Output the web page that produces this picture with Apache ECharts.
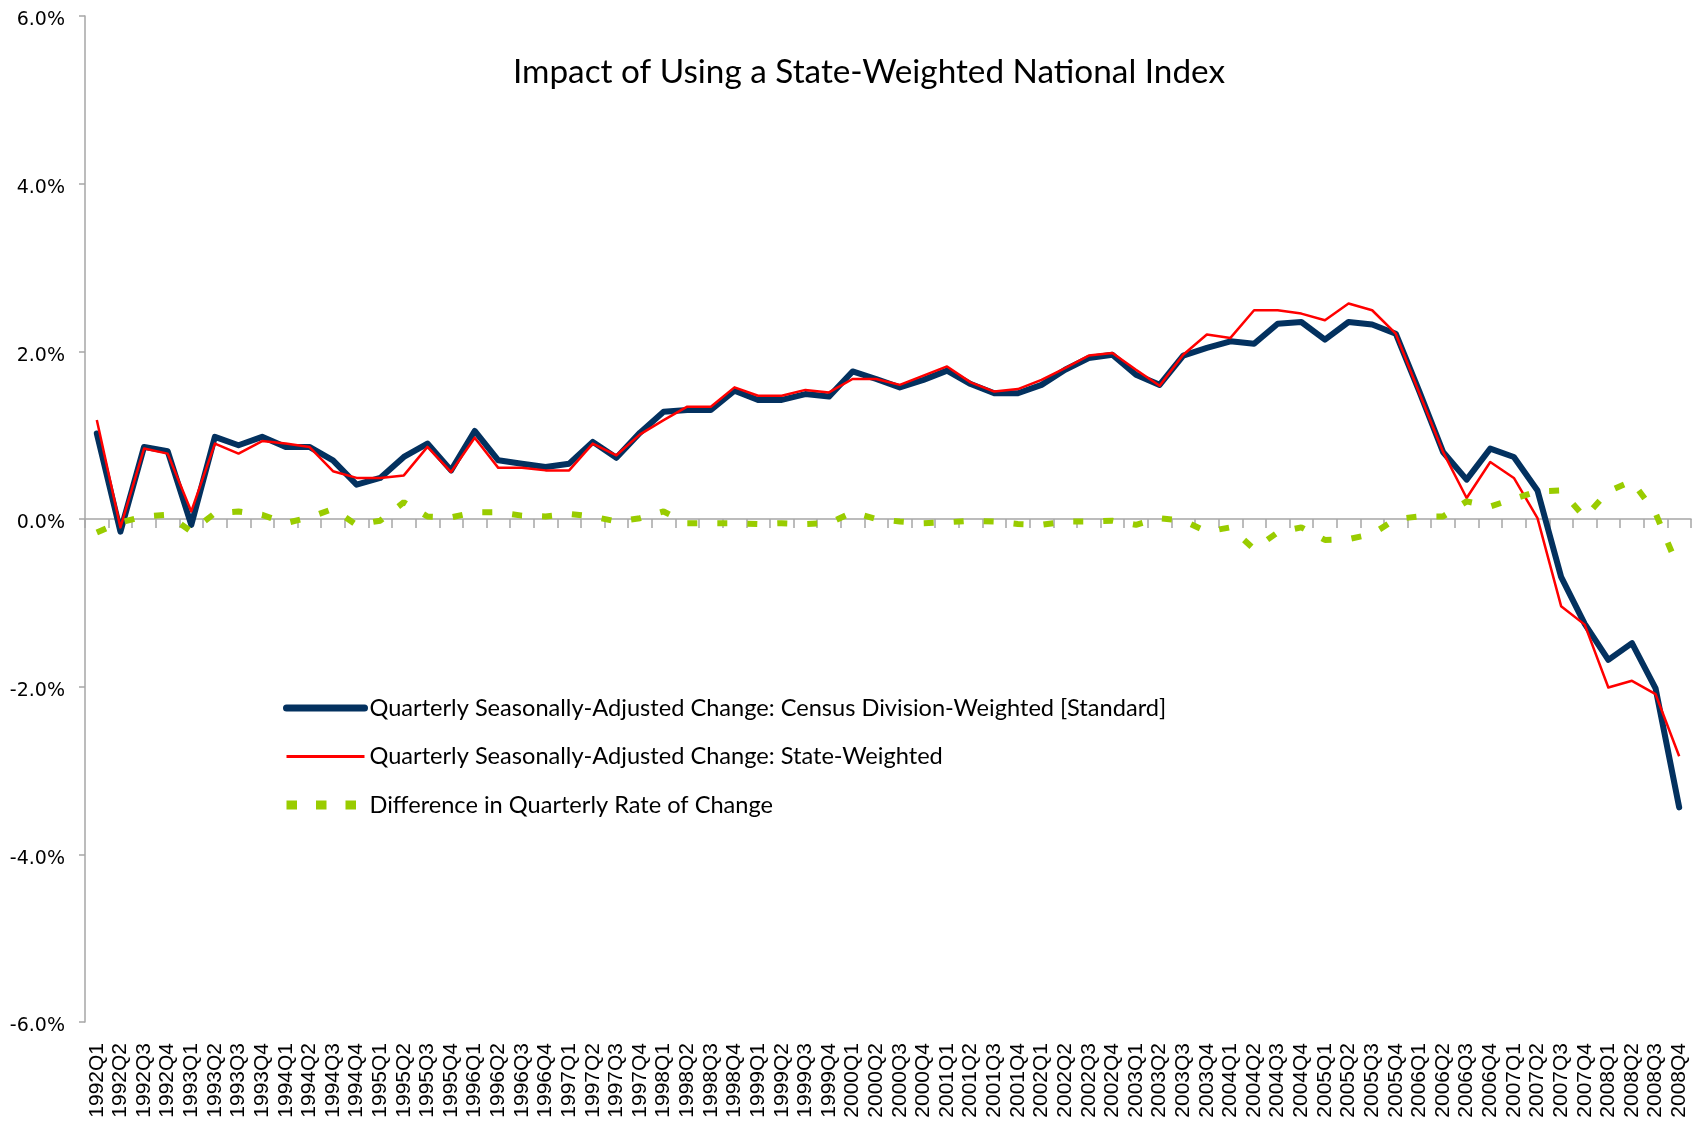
<!DOCTYPE html>
<html>
<head>
<meta charset="utf-8">
<script src="https://cdn.jsdelivr.net/npm/echarts@6/dist/echarts.min.js"></script>
<style>
html,body{margin:0;padding:0;background:#fff;}
#chart{width:1699px;height:1128px;}
</style>
</head>
<body>
<div id="chart"></div>
<script>
const quarters = [
  "1992Q1","1992Q2","1992Q3","1992Q4","1993Q1","1993Q2","1993Q3","1993Q4",
  "1994Q1","1994Q2","1994Q3","1994Q4","1995Q1","1995Q2","1995Q3","1995Q4",
  "1996Q1","1996Q2","1996Q3","1996Q4","1997Q1","1997Q2","1997Q3","1997Q4",
  "1998Q1","1998Q2","1998Q3","1998Q4","1999Q1","1999Q2","1999Q3","1999Q4",
  "2000Q1","2000Q2","2000Q3","2000Q4","2001Q1","2001Q2","2001Q3","2001Q4",
  "2002Q1","2002Q2","2002Q3","2002Q4","2003Q1","2003Q2","2003Q3","2003Q4",
  "2004Q1","2004Q2","2004Q3","2004Q4","2005Q1","2005Q2","2005Q3","2005Q4",
  "2006Q1","2006Q2","2006Q3","2006Q4","2007Q1","2007Q2","2007Q3","2007Q4",
  "2008Q1","2008Q2","2008Q3","2008Q4"
];

const censusDivisionWeighted = [
  1.02, -0.15, 0.86, 0.81, -0.07, 0.98, 0.88, 0.98,
  0.86, 0.86, 0.70, 0.41, 0.49, 0.74, 0.90, 0.58,
  1.05, 0.70, 0.66, 0.62, 0.66, 0.92, 0.73, 1.03,
  1.28, 1.30, 1.30, 1.53, 1.42, 1.42, 1.49, 1.46,
  1.76, 1.67, 1.57, 1.66, 1.77, 1.61, 1.50, 1.50,
  1.60, 1.78, 1.92, 1.96, 1.72, 1.60, 1.95, 2.04,
  2.12, 2.09, 2.33, 2.35, 2.14, 2.35, 2.32, 2.21,
  1.52, 0.80, 0.47, 0.84, 0.74, 0.34, -0.69, -1.25,
  -1.68, -1.48, -2.02, -3.44
];

const stateWeighted = [
  1.18, -0.10, 0.84, 0.78, 0.09, 0.90, 0.78, 0.93,
  0.90, 0.86, 0.57, 0.49, 0.49, 0.52, 0.86, 0.56,
  0.97, 0.61, 0.61, 0.58, 0.58, 0.90, 0.76, 1.01,
  1.18, 1.34, 1.34, 1.57, 1.47, 1.47, 1.54, 1.51,
  1.67, 1.67, 1.60, 1.71, 1.82, 1.63, 1.52, 1.55,
  1.66, 1.80, 1.95, 1.98, 1.78, 1.59, 1.96, 2.20,
  2.16, 2.49, 2.49, 2.45, 2.37, 2.57, 2.49, 2.21,
  1.50, 0.80, 0.25, 0.68, 0.49, 0.01, -1.04, -1.26,
  -2.01, -1.93, -2.09, -2.83
];

const differenceInRate = [
  -0.16, -0.04, 0.03, 0.05, -0.15, 0.07, 0.09, 0.05,
  -0.05, 0.02, 0.12, -0.07, -0.02, 0.20, 0.03, 0.02,
  0.08, 0.08, 0.04, 0.03, 0.06, 0.03, -0.03, 0.01,
  0.09, -0.05, -0.05, -0.05, -0.06, -0.05, -0.06, -0.05,
  0.08, 0.00, -0.03, -0.05, -0.04, -0.02, -0.03, -0.06,
  -0.07, -0.03, -0.03, -0.02, -0.07, 0.01, -0.02, -0.15,
  -0.10, -0.36, -0.16, -0.10, -0.25, -0.24, -0.18, 0.00,
  0.03, 0.03, 0.21, 0.15, 0.24, 0.33, 0.34, 0.02,
  0.33, 0.45, 0.07, -0.61
];

const yTicks = [-6, -4, -2, 0, 2, 4, 6];

const seriesNames = [
  "Quarterly Seasonally-Adjusted Change: Census Division-Weighted [Standard]",
  "Quarterly Seasonally-Adjusted Change: State-Weighted",
  "Difference in Quarterly Rate of Change"
];

const NAVY = '#03315f', RED = '#ff0000', GREEN = '#99cc00';

const chart = echarts.init(document.getElementById('chart'), null, {renderer: 'canvas'});

const option = {
  animation: false,
  backgroundColor: '#ffffff',
  title: {
    text: 'Impact of Using a State-Weighted National Index',
    left: 508,
    top: 51,
    textStyle: {fontFamily: 'Lato', fontSize: 33.3, fontWeight: 'normal', color: '#000'}
  },
  legend: {
    orient: 'vertical',
    left: 277,
    top: 691,
    itemWidth: 78,
    itemHeight: 20,
    itemGap: 24.5,
    textStyle: {fontFamily: 'Lato', fontSize: 23.6, color: '#000', lineHeight: 20},
    itemStyle: {opacity: 0},
    data: [
      {name: seriesNames[0], itemStyle: {opacity: 0}, lineStyle: {color: NAVY, width: 7, cap: 'round', type: 'solid'}},
      {name: seriesNames[1], itemStyle: {opacity: 0}, lineStyle: {color: RED, width: 3, type: 'solid'}},
      {name: seriesNames[2], itemStyle: {opacity: 0}, lineStyle: {color: GREEN, width: 9, type: [10.5, 19]}}
    ]
  },
  grid: {left: 85, right: 8, top: 16, bottom: 106, containLabel: false},
  xAxis: [
    {
      type: 'category',
      data: quarters,
      position: 'bottom',
      boundaryGap: true,
      axisLine: {show: false, onZero: false},
      axisTick: {show: false},
      axisLabel: {
        interval: 0, rotate: 90, margin: 21,
        fontFamily: 'Liberation Sans', fontSize: 21, color: '#000'
      }
    },
    {
      type: 'category',
      data: quarters,
      position: 'bottom',
      boundaryGap: true,
      axisLine: {show: true, onZero: true, lineStyle: {color: '#a6a6a6', width: 1.5}},
      axisTick: {show: true, interval: 0, length: 9, lineStyle: {color: '#a6a6a6', width: 1.5}},
      axisLabel: {show: false}
    }
  ],
  yAxis: {
    type: 'value',
    min: yTicks[0],
    max: yTicks[yTicks.length - 1],
    interval: 2,
    axisLine: {show: true, lineStyle: {color: '#a6a6a6', width: 1.5}},
    axisTick: {show: true, length: 6, lineStyle: {color: '#a6a6a6', width: 1.5}},
    splitLine: {show: false},
    axisLabel: {
      margin: 20,
      verticalAlign: 'top',
      lineHeight: 9,
      fontFamily: 'DejaVu Sans', fontSize: 19, color: '#000',
      formatter: v => v.toFixed(1) + '%'
    }
  },
  series: [
    {
      name: seriesNames[0],
      type: 'line',
      data: censusDivisionWeighted,
      symbol: 'none',
      lineStyle: {color: NAVY, width: 6, cap: 'round', join: 'round'},
      itemStyle: {color: NAVY},
      z: 2
    },
    {
      name: seriesNames[1],
      type: 'line',
      data: stateWeighted,
      symbol: 'none',
      lineStyle: {color: RED, width: 2.5, join: 'round'},
      itemStyle: {color: RED},
      z: 3
    },
    {
      name: seriesNames[2],
      type: 'line',
      data: differenceInRate,
      symbol: 'none',
      lineStyle: {color: GREEN, width: 6, type: [10, 20]},
      itemStyle: {color: GREEN},
      z: 4
    }
  ]
};

chart.setOption(option);
</script>
</body>
</html>
